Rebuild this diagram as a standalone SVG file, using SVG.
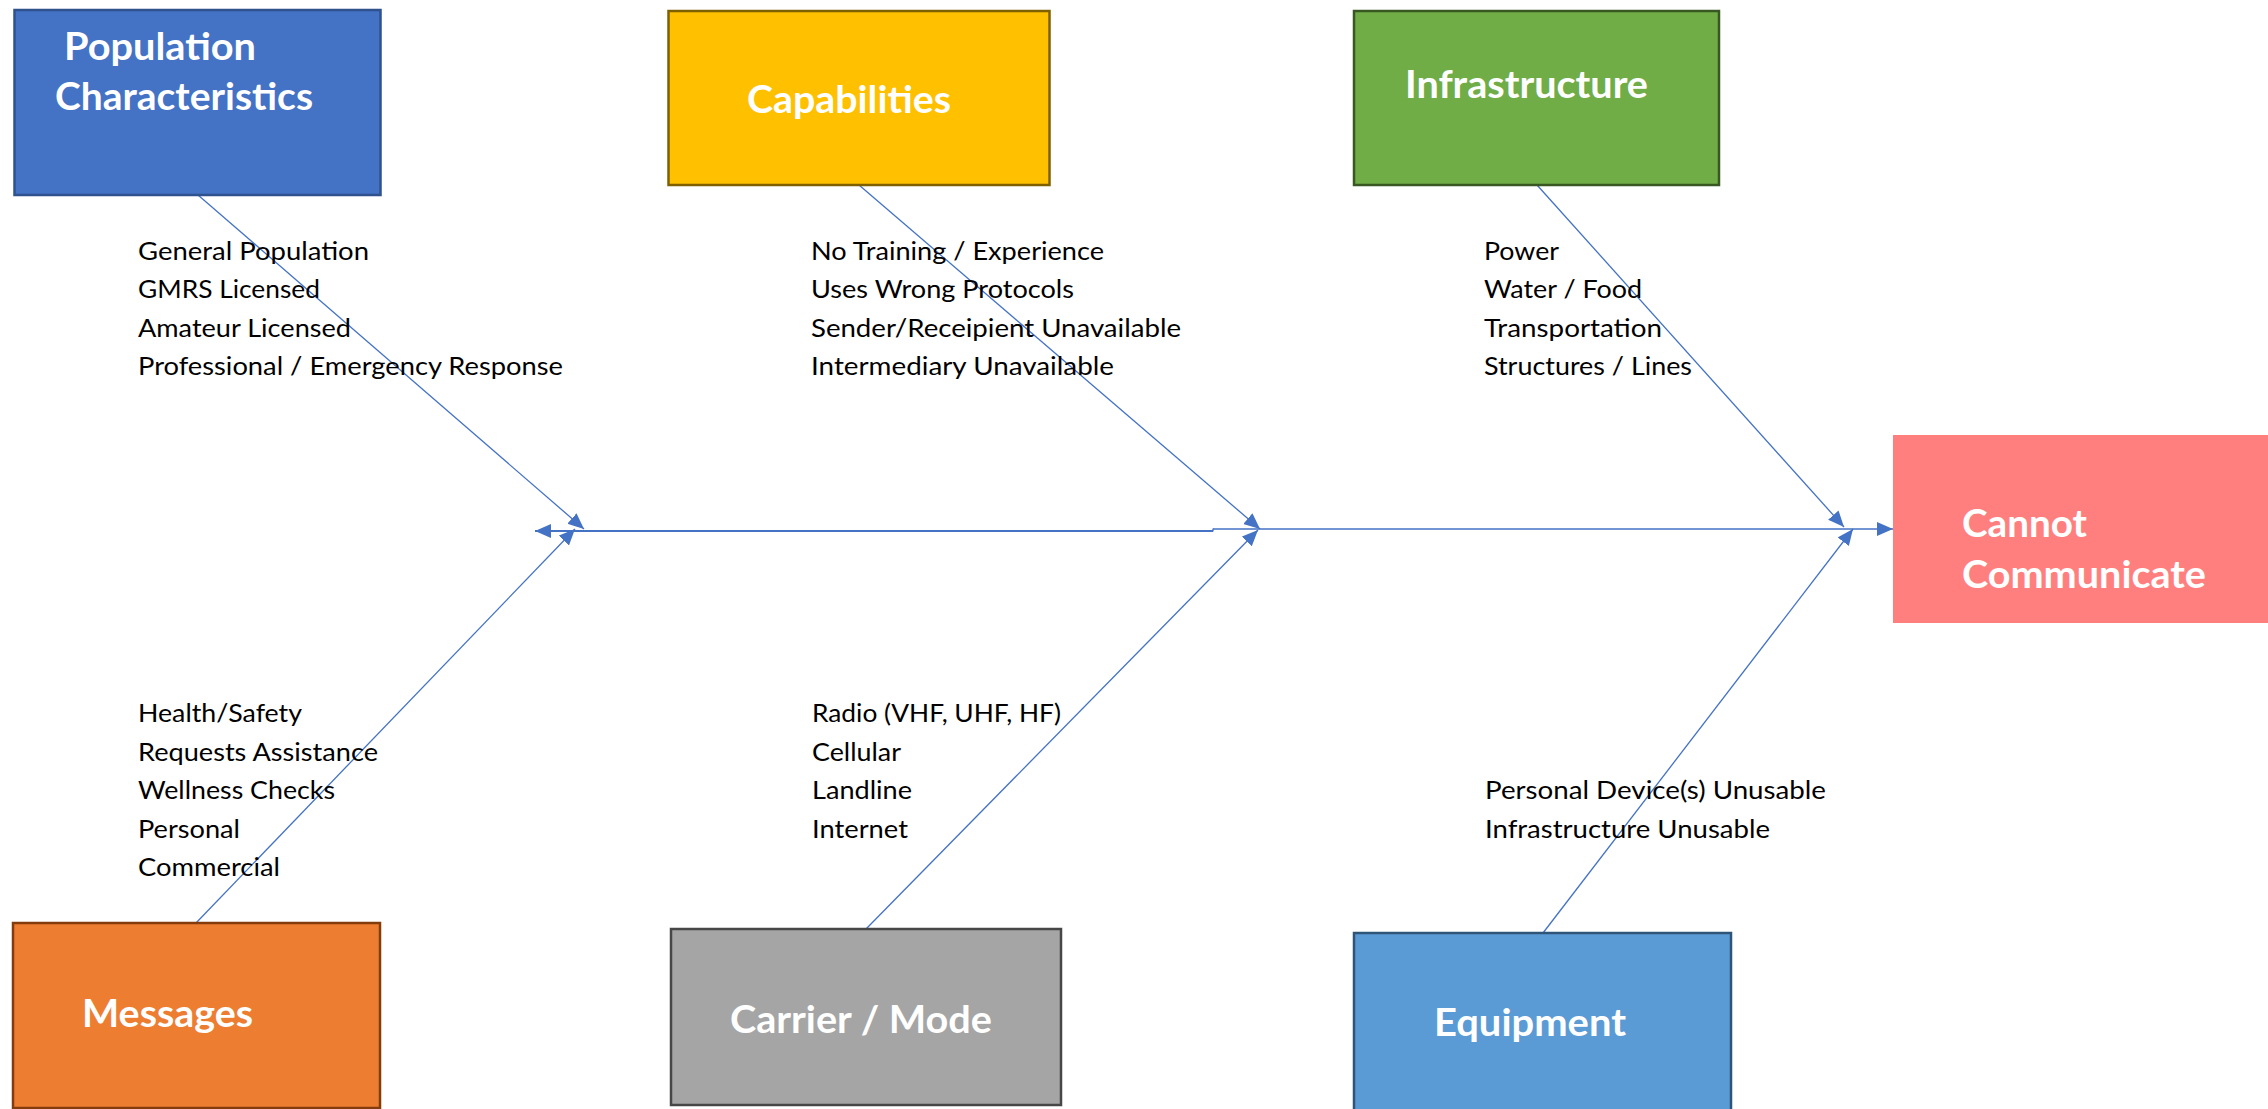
<svg xmlns="http://www.w3.org/2000/svg" width="2268" height="1109" viewBox="0 0 2268 1109">
  <defs>
    <marker id="arr" markerUnits="userSpaceOnUse" markerWidth="17" markerHeight="15" refX="16" refY="7" orient="auto">
      <path d="M0,0 L16,7 L0,14 z" fill="#4472C4"/>
    </marker>
    <style>
      .box { stroke-width: 2.5; }
      .head { font-family: Lato, "Open Sans", "Liberation Sans", sans-serif; font-weight: bold; font-size: 38px; fill: #FFFFFF; }
      .item { font-family: Lato, "Open Sans", "Liberation Sans", sans-serif; font-size: 25px; fill: #000000; }
      .conn { stroke: #4472C4; stroke-width: 1.3; fill: none; }
    </style>
  </defs>
  <rect width="2268" height="1109" fill="#FFFFFF"/>

  <g id="connectors">
    <line class="conn" x1="198" y1="195" x2="584" y2="529" marker-end="url(#arr)"/>
    <line class="conn" x1="196" y1="923" x2="575" y2="529" marker-end="url(#arr)"/>
    <line class="conn" x1="859" y1="185" x2="1260" y2="529" marker-end="url(#arr)"/>
    <line class="conn" x1="866" y1="929" x2="1258" y2="530" marker-end="url(#arr)"/>
    <line class="conn" x1="1537" y1="185" x2="1844" y2="527" marker-end="url(#arr)"/>
    <line class="conn" x1="1543" y1="933" x2="1853" y2="529" marker-end="url(#arr)"/>
    <line class="conn" x1="1213" y1="531" x2="535" y2="531" style="stroke-width:2" marker-end="url(#arr)"/>
    <line class="conn" x1="1213" y1="531.5" x2="1213" y2="528.5"/>
    <line class="conn" x1="1213" y1="529" x2="1893" y2="529" marker-end="url(#arr)"/>
  </g>

  <g id="population">
    <rect class="box" x="14.5" y="10" width="366" height="185" fill="#4472C4" stroke="#2F528F"/>
    <text class="head" x="64" y="60" textLength="192" lengthAdjust="spacingAndGlyphs">Population</text>
    <text class="head" x="55" y="110" textLength="258" lengthAdjust="spacingAndGlyphs">Characteristics</text>
    <text class="item" x="138" y="260" textLength="231" lengthAdjust="spacingAndGlyphs">General Population</text>
    <text class="item" x="138" y="298" textLength="182" lengthAdjust="spacingAndGlyphs">GMRS Licensed</text>
    <text class="item" x="138" y="337" textLength="213" lengthAdjust="spacingAndGlyphs">Amateur Licensed</text>
    <text class="item" x="138" y="375" textLength="425" lengthAdjust="spacingAndGlyphs">Professional / Emergency Response</text>
  </g>

  <g id="capabilities">
    <rect class="box" x="668.5" y="11" width="381" height="174" fill="#FFC000" stroke="#7F6000"/>
    <text class="head" x="747" y="113" textLength="204" lengthAdjust="spacingAndGlyphs">Capabilities</text>
    <text class="item" x="811" y="260" textLength="293" lengthAdjust="spacingAndGlyphs">No Training / Experience</text>
    <text class="item" x="811" y="298" textLength="263" lengthAdjust="spacingAndGlyphs">Uses Wrong Protocols</text>
    <text class="item" x="811" y="337" textLength="370" lengthAdjust="spacingAndGlyphs">Sender/Receipient Unavailable</text>
    <text class="item" x="811" y="375" textLength="303" lengthAdjust="spacingAndGlyphs">Intermediary Unavailable</text>
  </g>

  <g id="infrastructure">
    <rect class="box" x="1354" y="11" width="365" height="174" fill="#70AD47" stroke="#385723"/>
    <text class="head" x="1405" y="98" textLength="243" lengthAdjust="spacingAndGlyphs">Infrastructure</text>
    <text class="item" x="1484" y="260" textLength="75" lengthAdjust="spacingAndGlyphs">Power</text>
    <text class="item" x="1484" y="298" textLength="158" lengthAdjust="spacingAndGlyphs">Water / Food</text>
    <text class="item" x="1484" y="337" textLength="178" lengthAdjust="spacingAndGlyphs">Transportation</text>
    <text class="item" x="1484" y="375" textLength="208" lengthAdjust="spacingAndGlyphs">Structures / Lines</text>
  </g>

  <g id="cannot-communicate">
    <rect x="1893" y="435" width="375" height="188" fill="#FF7F7F"/>
    <text class="head" x="1962" y="537" textLength="125" lengthAdjust="spacingAndGlyphs">Cannot</text>
    <text class="head" x="1962" y="588" textLength="244" lengthAdjust="spacingAndGlyphs">Communicate</text>
  </g>

  <g id="messages">
    <rect class="box" x="13" y="923" width="367" height="185" fill="#ED7D31" stroke="#843C0C"/>
    <text class="head" x="82" y="1027" textLength="171" lengthAdjust="spacingAndGlyphs">Messages</text>
    <text class="item" x="138" y="722" textLength="164" lengthAdjust="spacingAndGlyphs">Health/Safety</text>
    <text class="item" x="138" y="761" textLength="240" lengthAdjust="spacingAndGlyphs">Requests Assistance</text>
    <text class="item" x="138" y="799" textLength="197" lengthAdjust="spacingAndGlyphs">Wellness Checks</text>
    <text class="item" x="138" y="838" textLength="102" lengthAdjust="spacingAndGlyphs">Personal</text>
    <text class="item" x="138" y="876" textLength="142" lengthAdjust="spacingAndGlyphs">Commercial</text>
  </g>

  <g id="carrier-mode">
    <rect class="box" x="671" y="929" width="390" height="176" fill="#A5A5A5" stroke="#474747"/>
    <text class="head" x="730" y="1033" textLength="262" lengthAdjust="spacingAndGlyphs">Carrier / Mode</text>
    <text class="item" x="812" y="722" textLength="249" lengthAdjust="spacingAndGlyphs">Radio (VHF, UHF, HF)</text>
    <text class="item" x="812" y="761" textLength="89" lengthAdjust="spacingAndGlyphs">Cellular</text>
    <text class="item" x="812" y="799" textLength="100" lengthAdjust="spacingAndGlyphs">Landline</text>
    <text class="item" x="812" y="838" textLength="96" lengthAdjust="spacingAndGlyphs">Internet</text>
  </g>

  <g id="equipment">
    <rect class="box" x="1354" y="933" width="377" height="190" fill="#5B9BD5" stroke="#2E5577"/>
    <text class="head" x="1434" y="1036" textLength="192" lengthAdjust="spacingAndGlyphs">Equipment</text>
    <text class="item" x="1485" y="799" textLength="341" lengthAdjust="spacingAndGlyphs">Personal Device(s) Unusable</text>
    <text class="item" x="1485" y="838" textLength="285" lengthAdjust="spacingAndGlyphs">Infrastructure Unusable</text>
  </g>
</svg>
